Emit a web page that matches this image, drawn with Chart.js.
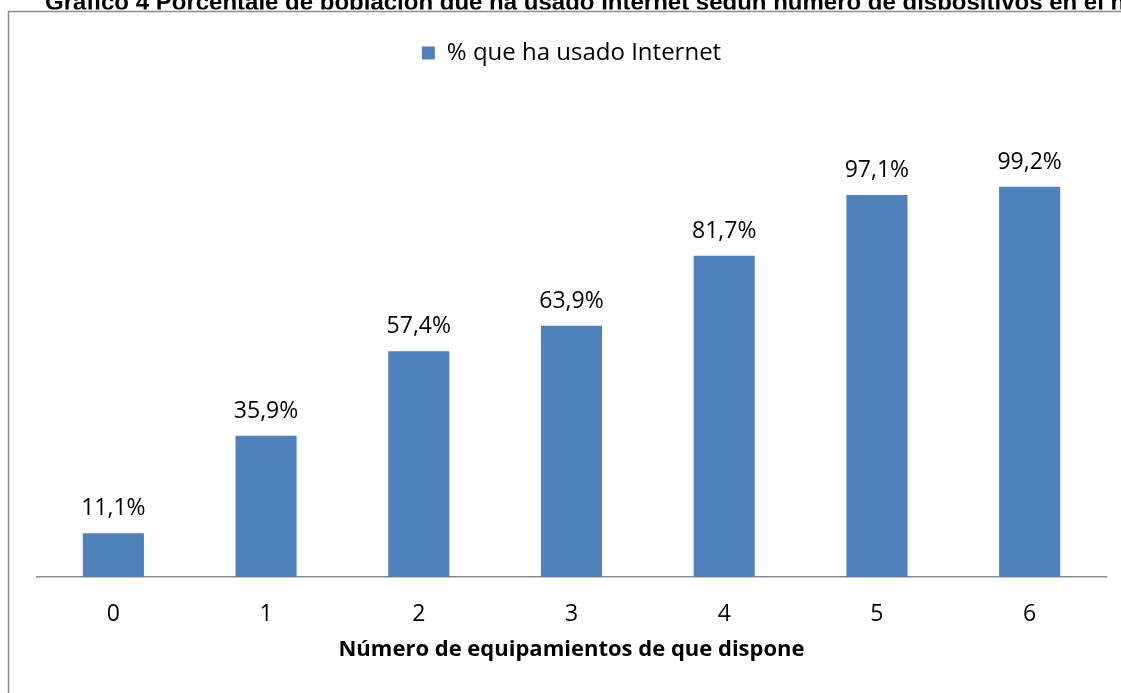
<!DOCTYPE html>
<html>
<head>
<meta charset="utf-8">
<script src="https://cdn.jsdelivr.net/npm/chart.js@4.4.1/dist/chart.umd.min.js"></script>
<style>
  html, body { margin: 0; padding: 0; background: #fff; }
  #wrap { width: 1121px; height: 693px; position: relative; }
</style>
</head>
<body>
<div id="wrap"><canvas id="grafico"></canvas></div>
<script>
// datos
const categories = ['0', '1', '2', '3', '4', '5', '6'];
const values = [11.1, 35.9, 57.4, 63.9, 81.7, 97.1, 99.2];
const seriesName = '% que ha usado Internet';
const chartTitle = 'Gráfico 4 Porcentaje de población que ha usado Internet según número de dispositivos en el hogar';
const xTitle = 'Número de equipamientos de que dispone';

const barColor = '#4F81BD';

// marco gris y titulo cortado arriba
const frameTitle = {
    id: 'frameTitle',
    beforeDraw(chart) {
        const ctx = chart.ctx;
        ctx.save();
        ctx.strokeStyle = '#8c8c8c';
        ctx.lineWidth = 1.5;
        ctx.strokeRect(8.5, 11.5, 1200, 800);
        ctx.restore();
    },
    afterDraw(chart) {
        const ctx = chart.ctx;
        ctx.save();
        ctx.beginPath();
        ctx.rect(0, 0, chart.width, 9.5);
        ctx.clip();
        ctx.font = 'bold 24px "Liberation Sans", Arial, sans-serif';
        ctx.fillStyle = '#000';
        ctx.textBaseline = 'alphabetic';
        ctx.textAlign = 'left';
        ctx.fillText(chartTitle, 45, 9.5);
        ctx.restore();
    }
};

// etiquetas de valor encima de las barras
const valueLabels = {
    id: 'valueLabels',
    afterDatasetsDraw(chart) {
        const ctx = chart.ctx;
        const meta = chart.getDatasetMeta(0);
        ctx.save();
        ctx.font = '23px "Open Sans", sans-serif';
        ctx.fillStyle = '#000';
        ctx.textAlign = 'center';
        ctx.textBaseline = 'alphabetic';
        meta.data.forEach((bar, i) => {
            const txt = values[i].toFixed(1).replace('.', ',') + '%';
            ctx.fillText(txt, bar.x, bar.y - 18);
        });
        ctx.restore();
    }
};

// espacio extra bajo la leyenda
const legendSpace = {
    id: 'legendSpace',
    beforeInit(chart) {
        const origFit = chart.legend.fit;
        chart.legend.fit = function () {
            origFit.bind(chart.legend)();
            this.height += 30;
        };
    }
};

const ctx = document.getElementById('grafico').getContext('2d');
const barChart = new Chart(ctx, {
    type: 'bar',
    data: {
        labels: categories,
        datasets: [{
            label: seriesName,
            data: values,
            backgroundColor: barColor,
            borderWidth: 0,
            categoryPercentage: 1,
            barPercentage: 0.4
        }]
    },
    options: {
        responsive: true,
        maintainAspectRatio: false,
        animation: false,
        layout: {
            padding: { left: 37, right: 15, top: 41, bottom: 0 }
        },
        scales: {
            x: {
                grid: { display: false, drawTicks: false },
                border: { display: true, color: '#8c8c8c', width: 1.5 },
                ticks: {
                    color: '#000',
                    padding: 24,
                    font: { family: '"Open Sans", sans-serif', size: 23 }
                },
                title: {
                    display: true,
                    text: xTitle,
                    color: '#000',
                    padding: { top: -16, bottom: 30 },
                    font: { family: '"Open Sans", sans-serif', size: 22, weight: 'bold' }
                }
            },
            y: {
                display: false,
                min: 0,
                max: 120
            }
        },
        plugins: {
            title: { display: false },
            tooltip: { enabled: false },
            legend: {
                display: true,
                position: 'top',
                labels: {
                    color: '#000',
                    boxWidth: 13,
                    boxHeight: 13,
                    padding: 0,
                    font: { family: '"Open Sans", sans-serif', size: 24 }
                }
            }
        }
    },
    plugins: [frameTitle, valueLabels, legendSpace]
});
</script>
</body>
</html>
